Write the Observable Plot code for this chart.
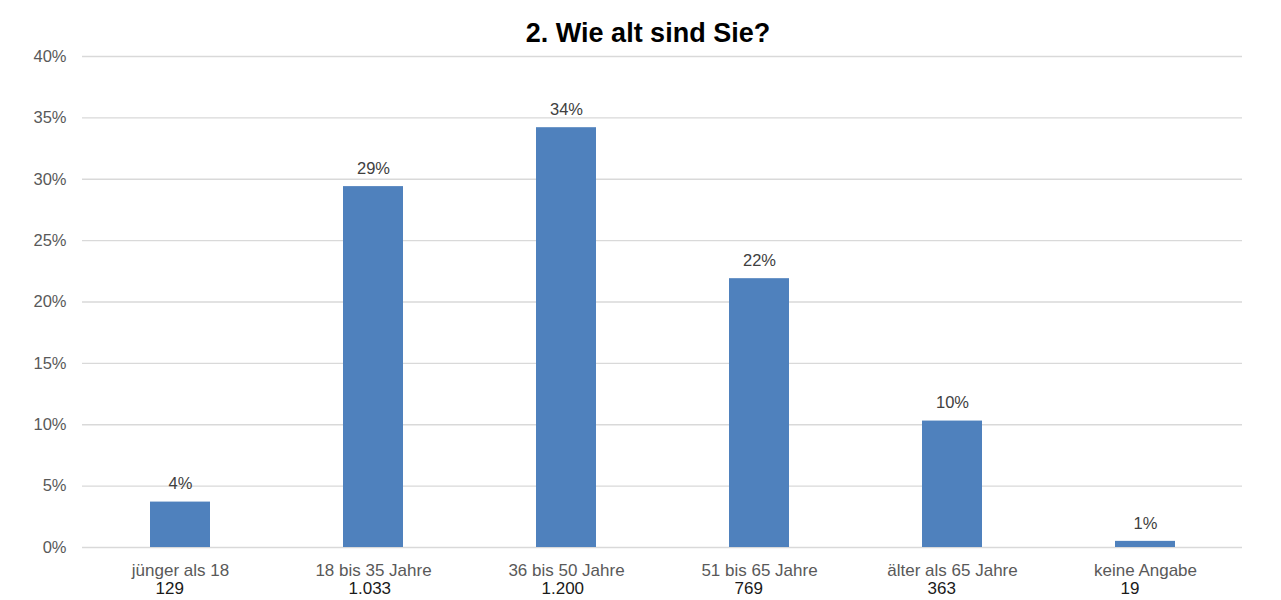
<!DOCTYPE html>
<html><head><meta charset="utf-8">
<script src="https://cdn.jsdelivr.net/npm/d3@7"></script>
<script src="https://cdn.jsdelivr.net/npm/@observablehq/plot@0.6"></script>
<style>
body{margin:0;background:#fff;font-family:"Liberation Sans",Arial,sans-serif;}
#wrap{position:relative;width:1281px;height:600px;}
#title{position:absolute;left:0;top:16px;width:1296px;text-align:center;font-size:27px;font-weight:bold;color:#000;line-height:34px;}
</style></head>
<body><div id="wrap"><div id="title">2. Wie alt sind Sie?</div><div id="chart"></div></div>
<script>
const categories = ["jünger als 18","18 bis 35 Jahre","36 bis 50 Jahre","51 bis 65 Jahre","älter als 65 Jahre","keine Angabe"];
const counts = ["129","1.033","1.200","769","363","19"];
const percents = [3.7, 29.4, 34.2, 21.9, 10.3, 0.5];
const valueLabels = ["4%","29%","34%","22%","10%","1%"];
const yTicks = [0,5,10,15,20,25,30,35,40];

const data = categories.map((c,i)=>({cat:c, count:counts[i], pct:percents[i], label:valueLabels[i]}));

const chart = Plot.plot({
  width:1281, height:600,
  marginTop:56, marginBottom:53, marginLeft:82, marginRight:39,
  style:{fontFamily:"'Liberation Sans', Arial, sans-serif", background:"#fff", overflow:"visible"},
  x:{domain:categories, paddingInner:0.69, paddingOuter:0.345, axis:null},
  y:{domain:[0,40], axis:null},
  marks:[
    Plot.ruleY(yTicks, {stroke:"#d9d9d9", strokeWidth:1.3}),
    Plot.text(yTicks, {y:d=>d, text:d=>d+"%", frameAnchor:"left", dx:-16, textAnchor:"end", fontSize:16.5, fill:"#595959"}),
    Plot.barY(data, {x:"cat", y:"pct", fill:"#4f81bd"}),
    Plot.text(data, {x:"cat", y:"pct", text:"label", dy:-18, fontSize:16.5, fill:"#404040"}),
    Plot.text(data, {x:"cat", y:()=>0, text:"cat", dy:23, fontSize:17, fill:"#595959"}),
    Plot.text(data, {x:"cat", y:()=>0, text:"count", dy:41, dx:-25, textAnchor:"start", fontSize:17, fill:"#1a1a1a"})
  ]
});
document.getElementById("chart").appendChild(chart);
</script></body></html>
